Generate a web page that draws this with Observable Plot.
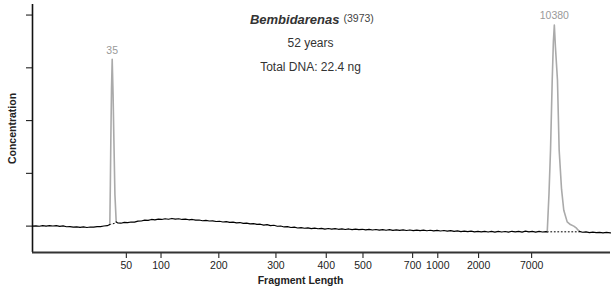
<!DOCTYPE html>
<html>
<head>
<meta charset="utf-8">
<script src="https://cdn.jsdelivr.net/npm/d3@7"></script>
<script src="https://cdn.jsdelivr.net/npm/@observablehq/plot@0.6"></script>
<style>
  body { margin: 0; background: #fff; }
  #chart svg { display: block; }
</style>
</head>
<body>
<div id="chart"></div>
<script>
// Ladder sizes (bp) and their migration times (s)
const ladderSizes = [50, 100, 200, 300, 400, 500, 700, 1000, 2000, 7000];
const ladderTimes = [53.8, 58.9, 67.4, 75.8, 83.2, 88.6, 95.9, 99.6, 105.6, 113.4];

// Marker peaks
const markerSizes = [35, 10380];
const markerTimes = [51.72, 116.74];
const markerHeights = [3.16, 3.81];

// Sample trace (black), null = gap under marker peaks
const traceTime = [
  40.0, 40.5, 41.0, 41.5, 42.0, 42.5, 43.0, 43.5, 44.0, 44.5, 45.0, 45.5, 46.0, 46.5, 47.0, 47.5, 48.0, 48.5,
  49.0, 49.5, 50.0, 50.5, 51.0, 51.37,
  51.8,
  52.31, 52.5, 53.0, 53.5, 54.0, 54.5, 55.0, 55.5, 56.0, 56.5, 57.0, 57.5, 58.0, 58.5, 59.0, 59.5, 60.0, 60.5,
  61.0, 61.5, 62.0, 62.5, 63.0, 63.5, 64.0, 64.5, 65.0, 65.5, 66.0, 66.5, 67.0, 67.5, 68.0, 68.5, 69.0, 69.5,
  70.0, 70.5, 71.0, 71.5, 72.0, 72.5, 73.0, 73.5, 74.0, 74.5, 75.0, 75.5, 76.0, 76.5, 77.0, 77.5, 78.0, 78.5,
  79.0, 79.5, 80.0, 80.5, 81.0, 81.5, 82.0, 82.5, 83.0, 83.5, 84.0, 84.5, 85.0, 85.5, 86.0, 86.5, 87.0, 87.5,
  88.0, 88.5, 89.0, 89.5, 90.0, 90.5, 91.0, 91.5, 92.0, 92.5, 93.0, 93.5, 94.0, 94.5, 95.0, 95.5, 96.0, 96.5,
  97.0, 97.5, 98.0, 98.5, 99.0, 99.5, 100.0, 100.5, 101.0, 101.5, 102.0, 102.5, 103.0, 103.5, 104.0, 104.5,
  105.0, 105.5, 106.0, 106.5, 107.0, 107.5, 108.0, 108.5, 109.0, 109.5, 110.0, 110.5, 111.0, 111.5, 112.0,
  112.5, 113.0, 113.5, 114.0, 114.5, 115.0, 115.5, 115.7,
  118.0,
  120.4, 120.9, 121.4, 121.9, 122.4, 122.9, 123.4, 123.9, 124.4, 125.0
];
const traceValue = [
  0.0, 0.006, -0.002, 0.01, 0.0, 0.008, 0.002, 0.009, -0.004, 0.003, -0.012, -0.008, -0.02, -0.014, -0.024, -0.016,
  -0.026, -0.017, -0.02, -0.01, -0.008, 0.002, 0.008, 0.03,
  null,
  0.08, 0.062, 0.055, 0.07, 0.066, 0.078, 0.076, 0.094, 0.097, 0.112, 0.11, 0.126, 0.119, 0.132, 0.126, 0.14, 0.13, 0.145,
  0.132, 0.14, 0.126, 0.133, 0.12, 0.126, 0.112, 0.116, 0.102, 0.11, 0.097, 0.1, 0.088, 0.092, 0.078, 0.084, 0.07, 0.074,
  0.061, 0.068, 0.052, 0.058, 0.043, 0.048, 0.032, 0.036, 0.02, 0.027, 0.01, 0.016, -0.003, 0.002, -0.016, -0.01, -0.026, -0.02,
  -0.036, -0.027, -0.04, -0.033, -0.048, -0.038, -0.05, -0.042, -0.056, -0.045, -0.057, -0.048, -0.06, -0.052, -0.064, -0.054, -0.066, -0.056,
  -0.068, -0.06, -0.072, -0.061, -0.074, -0.064, -0.076, -0.066, -0.078, -0.068, -0.08, -0.07, -0.081, -0.072, -0.083, -0.073, -0.084, -0.075,
  -0.086, -0.077, -0.088, -0.078, -0.091, -0.08, -0.093, -0.083, -0.096, -0.086, -0.1, -0.09, -0.104, -0.094, -0.106, -0.096,
  -0.109, -0.098, -0.11, -0.1, -0.112, -0.101, -0.113, -0.1, -0.112, -0.102, -0.114, -0.098, -0.11, -0.1, -0.113,
  -0.096, -0.11, -0.1, -0.114, -0.101, -0.112, -0.104, -0.108,
  null,
  -0.1, -0.116, -0.11, -0.122, -0.114, -0.124, -0.118, -0.127, -0.12, -0.127
];

// Marker peak shapes (grey)
const peak35Time  = [51.37, 51.45, 51.52, 51.62, 51.72, 51.85, 51.97, 52.12, 52.31];
const peak35Value = [0.03, 0.8, 1.63, 2.6, 3.16, 2.5, 1.63, 0.6, 0.08];
const peakUpperTime  = [115.7, 115.95, 116.18, 116.43, 116.6, 116.74, 116.9, 117.2, 117.45, 117.8, 118.13, 118.63, 119.1, 119.6, 120.0, 120.4];
const peakUpperValue = [-0.1, 0.6, 1.44, 2.77, 3.5, 3.81, 3.4, 2.77, 1.44, 0.7, 0.3, 0.08, 0.03, 0.0, -0.04, -0.1];

// Baselines under the marker peaks (dotted)
const baseTime  = [51.37, 52.31, 115.7, 120.4];
const baseValue = [0.03, 0.06, -0.108, -0.108];
const baseGroup = ["a", "a", "b", "b"];

const yTicks = [0, 1, 2, 3, 4];

const trace = traceTime.map((t, i) => ({t, v: traceValue[i]}));
const p35 = peak35Time.map((t, i) => ({t, v: peak35Value[i]}));
const pUp = peakUpperTime.map((t, i) => ({t, v: peakUpperValue[i]}));
const base = baseTime.map((t, i) => ({t, v: baseValue[i], g: baseGroup[i]}));
const markers = markerTimes.map((t, i) => ({t, h: markerHeights[i], s: String(markerSizes[i])}));

const font = "'Liberation Sans', Arial, Helvetica, sans-serif";

const chart = Plot.plot({
  width: 611,
  height: 291,
  marginLeft: 32,
  marginRight: 1,
  marginTop: 4,
  marginBottom: 39,
  x: {domain: [40, 125]},
  y: {domain: [-0.5, 4.2]},
  style: {fontFamily: font, fontSize: "10.5px", color: "#222", background: "#fff"},
  marks: [
    Plot.axisX({
      ticks: ladderTimes,
      tickFormat: d => String(ladderSizes[ladderTimes.indexOf(d)]),
      tickSize: 6,
      tickPadding: 3,
      label: null,
      stroke: "#222",
      strokeWidth: 1.1,
      fill: "#222",
      fontSize: 10.5
    }),
    Plot.axisY({
      ticks: yTicks,
      tickFormat: () => "",
      tickSize: 6,
      label: null,
      stroke: "#222",
      strokeWidth: 1.1
    }),
    Plot.ruleX([40], {stroke: "#111", strokeWidth: 1.6}),
    Plot.ruleY([-0.5], {stroke: "#333", strokeWidth: 1.8}),
    Plot.line(base, {x: "t", y: "v", z: "g", stroke: "#000", strokeWidth: 1, strokeDasharray: "1,2.5"}),
    Plot.line(p35, {x: "t", y: "v", stroke: "#aaa", strokeWidth: 1.6}),
    Plot.line(pUp, {x: "t", y: "v", stroke: "#aaa", strokeWidth: 1.6}),
    Plot.line(trace, {x: "t", y: "v", stroke: "#000", strokeWidth: 1.2}),
    Plot.text(markers, {x: "t", y: "h", text: "s", dy: -9, fill: "#999", fontSize: 10.5}),
    Plot.text(["Bembidarenas"], {frameAnchor: "top", textAnchor: "end", dx: 18, dy: 10, fontWeight: "bold", fontStyle: "italic", fontSize: 13, fill: "#333"}),
    Plot.text(["(3973)"], {frameAnchor: "top", textAnchor: "start", dx: 22, dy: 10.5, fontSize: 10.5, fill: "#444"}),
    Plot.text(["52 years"], {frameAnchor: "top", dx: -11, dy: 34, fontSize: 12, fill: "#333"}),
    Plot.text(["Total DNA: 22.4 ng"], {frameAnchor: "top", dx: -11, dy: 58, fontSize: 12, fill: "#333"}),
    Plot.text(["Concentration"], {frameAnchor: "left", textAnchor: "middle", rotate: -90, dx: -20, fontWeight: "bold", fontSize: 10.5, fill: "#222"}),
    Plot.text(["Fragment Length"], {frameAnchor: "bottom", dx: -21, dy: 31, fontWeight: "bold", fontSize: 10.5, fill: "#222"})
  ]
});
document.getElementById("chart").appendChild(chart);
</script>
</body>
</html>
